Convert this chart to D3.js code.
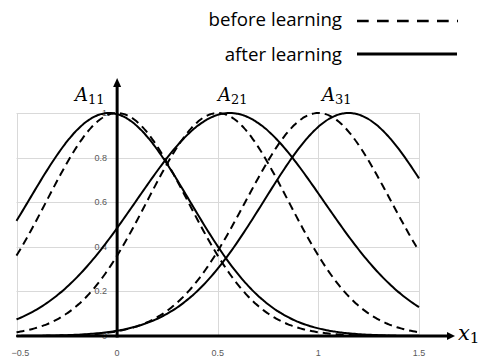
<!DOCTYPE html>
<html>
<head>
<meta charset="utf-8">
<script src="https://cdn.jsdelivr.net/npm/d3@7"></script>
<style>
  html, body { margin: 0; padding: 0; background: #fff; }
  svg { display: block; }
</style>
</head>
<body>
<svg id="chart" width="478" height="360"></svg>
<script>
// Gaussian membership functions A11, A21, A31 on input x1
const setNames = ["A11", "A21", "A31"];
const centersBefore = [0.0, 0.5, 1.0];
const widthsBefore = [0.35, 0.35, 0.36];
const centersAfter = [-0.04, 0.56, 1.15];
const widthsAfter = [0.40, 0.465, 0.42];
const xTicks = [-0.5, 0, 0.5, 1, 1.5];
const yTicks = [0, 0.2, 0.4, 0.6, 0.8, 1];
const legendLabels = ["before learning", "after learning"];

const svg = d3.select("#chart");
const x = d3.scaleLinear().domain([-0.5, 1.5]).range([16.5, 419]);
const y = d3.scaleLinear().domain([0, 1]).range([336, 113]);

// sample grid along x1
const xs = d3.range(-0.5, 1.5001, 0.01);
const mu = (c, s) => xs.map(v => [v, Math.exp(-((v - c) ** 2) / (2 * s * s))]);

// gridlines
const grid = svg.append("g").attr("stroke", "#d9d9d9").attr("stroke-width", 1);
grid.selectAll("line.h").data(yTicks).join("line")
  .attr("x1", x(-0.5)).attr("x2", x(1.5))
  .attr("y1", d => Math.round(y(d)) + 0.5).attr("y2", d => Math.round(y(d)) + 0.5);
grid.selectAll("line.v").data(xTicks).join("line")
  .attr("y1", y(0)).attr("y2", y(1))
  .attr("x1", d => Math.round(x(d)) + 0.5).attr("x2", d => Math.round(x(d)) + 0.5);

// tick labels
const tickFont = "'Liberation Sans', Arial, sans-serif";
svg.append("g").selectAll("text").data(yTicks).join("text")
  .attr("x", x(0) - 10).attr("y", d => y(d) + 3)
  .attr("text-anchor", "end").attr("font-family", tickFont)
  .attr("font-size", 9).attr("fill", "#595959")
  .text(d => d3.format("")(d));
svg.append("g").selectAll("text").data(xTicks).join("text")
  .attr("x", d => x(d) + (d === -0.5 ? 4 : 0)).attr("y", 356)
  .attr("text-anchor", "middle").attr("font-family", tickFont)
  .attr("font-size", 9).attr("fill", "#595959")
  .text(d => d3.format("")(d));

// membership curves
const line = d3.line().x(d => x(d[0])).y(d => y(d[1])).curve(d3.curveBasis);
const curves = svg.append("g").attr("fill", "none").attr("stroke", "#000").attr("stroke-width", 2);
curves.selectAll("path.before").data(centersBefore).join("path")
  .attr("d", (c, i) => line(mu(c, widthsBefore[i])))
  .attr("stroke-dasharray", "8,5");
curves.selectAll("path.after").data(centersAfter).join("path")
  .attr("d", (c, i) => line(mu(c, widthsAfter[i])));

// thick axes with arrowheads
const axes = svg.append("g");
axes.append("line").attr("x1", x(-0.5)).attr("x2", 449)
  .attr("y1", y(0)).attr("y2", y(0)).attr("stroke", "#000").attr("stroke-width", 3);
axes.append("path").attr("d", `M455,${y(0)} L447,${y(0) - 4} L447,${y(0) + 4} Z`).attr("fill", "#000");
axes.append("line").attr("x1", x(0)).attr("x2", x(0))
  .attr("y1", y(0) + 1.5).attr("y2", 86).attr("stroke", "#000").attr("stroke-width", 3);
axes.append("path").attr("d", `M${x(0)},78 L${x(0) - 4},87 L${x(0) + 4},87 Z`).attr("fill", "#000");

// math labels
const mathFont = "'DejaVu Serif', 'Liberation Serif', serif";
function mathLabel(px, py, base, sub, size) {
  const t = svg.append("text").attr("x", px).attr("y", py)
    .attr("font-family", mathFont).attr("font-size", size);
  t.append("tspan").attr("font-style", "italic").text(base);
  t.append("tspan").attr("dy", 3).attr("font-size", size * 0.72).text(sub);
}
const labelX = [75, 218, 322];
setNames.forEach((n, i) => mathLabel(labelX[i], 101, n[0], n.slice(1), 18));
mathLabel(458, 340, "x", "1", 21);

// legend
const legFont = "'Open Sans', 'Liberation Sans', sans-serif";
const legend = svg.append("g");
const legY = [26, 61];
legend.selectAll("text").data(legendLabels).join("text")
  .attr("x", 342).attr("y", (d, i) => legY[i])
  .attr("text-anchor", "end").attr("font-family", legFont).attr("font-size", 18.7)
  .attr("fill", "#000").text(d => d);
legend.append("line").attr("x1", 357).attr("x2", 458).attr("y1", 21).attr("y2", 21)
  .attr("stroke", "#000").attr("stroke-width", 2.5).attr("stroke-dasharray", "11.7,8.3");
legend.append("line").attr("x1", 357).attr("x2", 457).attr("y1", 54).attr("y2", 54)
  .attr("stroke", "#000").attr("stroke-width", 3);
</script>
</body>
</html>
